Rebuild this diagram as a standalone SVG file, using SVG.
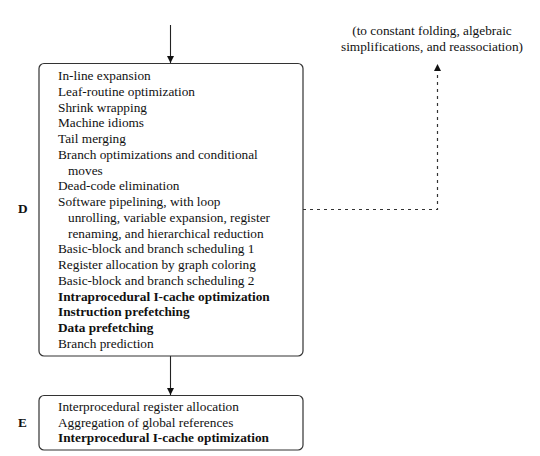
<svg xmlns="http://www.w3.org/2000/svg" width="540" height="456" viewBox="0 0 540 456">
<style>
text{font-family:"Liberation Serif","Times New Roman",serif;font-size:13.3px;fill:#111}
.b{font-weight:bold}
.box{fill:#fff;stroke:#333;stroke-width:1.2}
.ln{stroke:#222;stroke-width:1.1;fill:none}
.dash{stroke:#333;stroke-width:1.2;fill:none;stroke-dasharray:3,4}
</style>
<defs>
<marker id="ah" viewBox="0 0 10 10" refX="10" refY="5" markerWidth="7" markerHeight="9" markerUnits="userSpaceOnUse" orient="auto">
<path d="M0,0 L10,5 L0,10 z" fill="#111"/>
</marker>
</defs>
<rect width="540" height="456" fill="#fff"/>
<g id="connectors">
<line class="ln" x1="170.5" y1="25" x2="170.5" y2="63" marker-end="url(#ah)"/>
<line class="ln" x1="170.5" y1="356" x2="170.5" y2="395" marker-end="url(#ah)"/>
<polyline class="dash" points="303,209.5 437.5,209.5 437.5,64" marker-end="url(#ah)"/>
</g>
<g id="nodeD">
<rect class="box" x="39" y="63.5" width="264" height="292.5" rx="5"/>
<text class="b" x="18" y="213">D</text>
<text x="58" y="80">In-line expansion</text>
<text x="58" y="95.8">Leaf-routine optimization</text>
<text x="58" y="111.5">Shrink wrapping</text>
<text x="58" y="127.3">Machine idioms</text>
<text x="58" y="143">Tail merging</text>
<text x="58" y="158.8">Branch optimizations and conditional</text>
<text x="68" y="174.5">moves</text>
<text x="58" y="190.3">Dead-code elimination</text>
<text x="58" y="206">Software pipelining, with loop</text>
<text x="68" y="221.8">unrolling, variable expansion, register</text>
<text x="68" y="237.5">renaming, and hierarchical reduction</text>
<text x="58" y="253.3">Basic-block and branch scheduling 1</text>
<text x="58" y="269">Register allocation by graph coloring</text>
<text x="58" y="284.8">Basic-block and branch scheduling 2</text>
<text class="b" x="58" y="300.5">Intraprocedural I-cache optimization</text>
<text class="b" x="58" y="316.3">Instruction prefetching</text>
<text class="b" x="58" y="332">Data prefetching</text>
<text x="58" y="347.8">Branch prediction</text>
</g>
<g id="nodeE">
<rect class="box" x="39" y="395.5" width="264" height="54.5" rx="5"/>
<text class="b" x="18" y="427">E</text>
<text x="58" y="411">Interprocedural register allocation</text>
<text x="58" y="426.7">Aggregation of global references</text>
<text class="b" x="58" y="442.4">Interprocedural I-cache optimization</text>
</g>
<g id="note">
<text x="432" y="35" text-anchor="middle">(to constant folding, algebraic</text>
<text x="432" y="51" text-anchor="middle">simplifications, and reassociation)</text>
</g>
</svg>
